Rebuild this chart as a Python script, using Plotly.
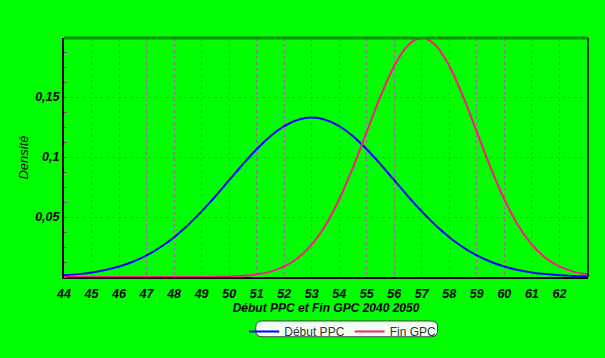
import plotly.graph_objects as go

# Data
x_values = [44, 44.5, 45, 45.5, 46, 46.5, 47, 47.5, 48, 48.5, 49, 49.5, 50, 50.5,
            51, 51.5, 52, 52.5, 53, 53.5, 54, 54.5, 55, 55.5, 56, 56.5, 57, 57.5,
            58, 58.5, 59, 59.5, 60, 60.5, 61, 61.5, 62, 62.5, 63]
debut_ppc = [0.0015, 0.0024, 0.0038, 0.0058, 0.0087, 0.0127, 0.0180, 0.0248, 0.0332,
             0.0432, 0.0547, 0.0673, 0.0807, 0.0940, 0.1065, 0.1174, 0.1258, 0.1311,
             0.1330, 0.1311, 0.1258, 0.1174, 0.1065, 0.0940, 0.0807, 0.0673, 0.0547,
             0.0432, 0.0332, 0.0248, 0.0180, 0.0127, 0.0087, 0.0058, 0.0038, 0.0024,
             0.0015, 0.0009, 0.0005]
fin_gpc = [0.0, 0.0, 0.0, 0.0, 0.0, 0.0, 0.0, 0.0, 0.0, 0.0, 0.0, 0.0002, 0.0004,
           0.0010, 0.0022, 0.0045, 0.0088, 0.0159, 0.0270, 0.0431, 0.0648, 0.0913,
           0.1210, 0.1506, 0.1760, 0.1933, 0.1995, 0.1933, 0.1760, 0.1506, 0.1210,
           0.0913, 0.0648, 0.0431, 0.0270, 0.0159, 0.0088, 0.0045, 0.0022]
x_ticks = list(range(44, 63))
y_ticks = [0.05, 0.1, 0.15]
series_names = ["Début PPC", "Fin GPC"]
x_title = "Début PPC et Fin GPC 2040 2050"
y_title = "Densité"

GREEN = "#00FF00"
FONT = "Liberation Sans, Arial, sans-serif"

fig = go.Figure()
fig.add_trace(go.Scatter(x=x_values, y=debut_ppc, mode="lines", name=series_names[0],
                         line=dict(color="#0000FF", width=2, shape="spline", smoothing=1)))
fig.add_trace(go.Scatter(x=x_values, y=fin_gpc, mode="lines", name=series_names[1],
                         line=dict(color="#FF1A80", width=2, shape="spline", smoothing=1)))

tickfont = dict(family=FONT, size=12.5, color="black", weight="bold", style="italic")
GRID = "#808080"

fig.update_layout(
    width=605, height=358,
    margin=dict(l=64, r=17, t=38, b=76),
    paper_bgcolor=GREEN, plot_bgcolor=GREEN,
    separators=", ",
    showlegend=True,
    legend=dict(orientation="h", x=0.532, xanchor="center", y=-0.228, yanchor="middle",
                bgcolor="rgba(0,0,0,0)", borderwidth=0,
                font=dict(family=FONT, size=12, color="#333333"),
                itemwidth=30, tracegroupgap=0),
    xaxis=dict(range=[44, 63.04], tickvals=x_ticks, showgrid=True,
               gridcolor=GRID, griddash="dot", gridwidth=1,
               showline=True, linecolor="black", linewidth=2,
               ticks="outside", ticklen=4, tickcolor="rgba(0,0,0,0)",
               tickfont=tickfont, zeroline=False,
               title=dict(text=x_title, standoff=2,
                          font=dict(family=FONT, size=12, color="black", style="italic", weight="bold"))),
    yaxis=dict(range=[0, 0.1993], tickvals=y_ticks, showgrid=True,
               gridcolor=GRID, griddash="dot", gridwidth=1,
               showline=True, linecolor="black", linewidth=2,
               ticks="", tickfont=tickfont, zeroline=False,
               minor=dict(ticks="inside", dtick=0.0125, ticklen=3, tickcolor="#666666",
                          showgrid=False),
               title=dict(text=y_title, standoff=4,
                          font=dict(family=FONT, size=13, color="black", style="italic"))),
)

# top (dark green) and right (black) frame lines
fig.add_shape(type="line", xref="paper", yref="paper", x0=0, x1=1, y0=1, y1=1,
              line=dict(color="#009000", width=3), layer="above")
fig.add_shape(type="line", xref="paper", yref="paper", x0=1, x1=1, y0=0, y1=1,
              line=dict(color="black", width=1.5), layer="above")

# rounded legend box
x0, x1, y0, y1 = 0.366, 0.713, -0.25, -0.184
rx, ry = 0.012, 0.026
path = (f"M {x0+rx},{y0} L {x1-rx},{y0} Q {x1},{y0} {x1},{y0+ry} L {x1},{y1-ry} "
        f"Q {x1},{y1} {x1-rx},{y1} L {x0+rx},{y1} Q {x0},{y1} {x0},{y1-ry} "
        f"L {x0},{y0+ry} Q {x0},{y0} {x0+rx},{y0} Z")
fig.add_shape(type="path", xref="paper", yref="paper", path=path,
              fillcolor="#F4FFF4", line=dict(color="#404040", width=1), layer="below")

fig.write_html("out.html")
